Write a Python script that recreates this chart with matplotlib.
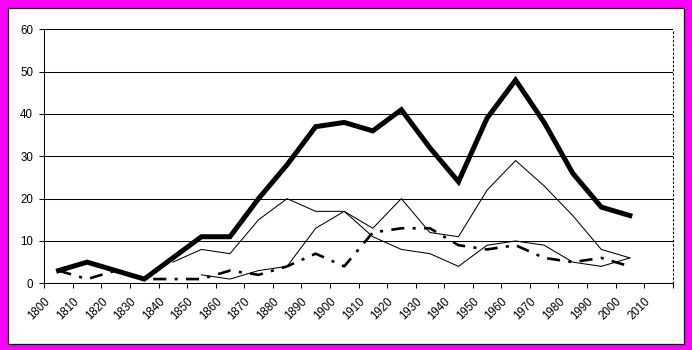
import matplotlib
matplotlib.use("Agg")
import matplotlib.pyplot as plt
from matplotlib.patches import Rectangle
import numpy as np

years = [str(y) for y in range(1800, 2011, 10)]
total = [3, 5, 3, 1, 6, 11, 11, 20, 28, 37, 38, 36, 41, 32, 24, 39, 48, 38, 26, 18, 16, None]
series_a = [None, None, None, None, 5, 8, 7, 15, 20, 17, 17, 13, 20, 12, 11, 22, 29, 23, 16, 8, 6, None]
series_b = [None, None, None, None, None, 2, 1, 3, 4, 13, 17, 11, 8, 7, 4, 9, 10, 9, 5, 4, 6, None]
series_c = [3, 1, 3, 1, 1, 1, 3, 2, 4, 7, 4, 12, 13, 13, 9, 8, 9, 6, 5, 6, 4, None]
y_ticks = [0, 10, 20, 30, 40, 50, 60]

def arr(v):
    return np.array([np.nan if x is None else x for x in v], dtype=float)

plt.rcParams['font.family'] = ['Liberation Sans', 'DejaVu Sans']
plt.rcParams['lines.scale_dashes'] = False

W, H = 692, 350
fig = plt.figure(figsize=(W / 100, H / 100), dpi=100, facecolor='#FF00FF')
bg = Rectangle((7.5 / W, (H - 343.5) / H), (684 - 7.5) / W, (343.5 - 7.5) / H,
               transform=fig.transFigure, facecolor='white', edgecolor='black',
               linewidth=0.9, zorder=-10)
fig.patches.append(bg)

left, right, top, bottom = 44.3, 672.7, 29.3, 283.3
ax = fig.add_axes([left / W, (H - bottom) / H, (right - left) / W, (bottom - top) / H])
ax.set_zorder(5)
ax.set_facecolor('none')

x = np.arange(len(years))
ax.plot(x, arr(series_b), color='black', lw=0.75, zorder=3)
ax.plot(x, arr(series_a), color='black', lw=0.75, zorder=3)
ax.plot(x, arr(series_c), color='black', lw=1.9, dashes=(9.4, 6.0, 2.2, 6.0),
        dash_capstyle='butt', zorder=4)
ax.plot(x, arr(total), color='black', lw=3.6, solid_joinstyle='miter', zorder=5)

ax.set_xlim(-0.5, len(years) - 0.5)
ax.set_ylim(0, 60)

# y axis
ax.set_yticks(y_ticks)
ax.set_yticklabels([str(v) for v in y_ticks])
ax.tick_params(axis='y', direction='out', length=3.6, width=0.75, pad=4.5,
               labelsize=8.3, colors='black')
ax.yaxis.grid(True, color='black', linewidth=0.75)
ax.set_axisbelow(True)

# x axis: ticks at category boundaries, labels via minor ticks
bounds = np.arange(len(years) + 1) - 0.5
ax.set_xticks(bounds)
ax.set_xticklabels([''] * len(bounds))
ax.tick_params(axis='x', which='major', direction='out', length=3.6, width=0.75)
ax.set_xticks(x - 0.5 + 0.15, minor=True)
ax.set_xticklabels(years, minor=True, rotation=45, ha='right', va='center',
                   rotation_mode='anchor', fontsize=8.3)
ax.tick_params(axis='x', which='minor', length=0, pad=12.0)

for s in ['left', 'bottom']:
    ax.spines[s].set_color('black')
    ax.spines[s].set_linewidth(0.75)
ax.spines['top'].set_visible(False)
ax.spines['right'].set_linestyle((0, (1, 2)))
ax.spines['right'].set_linewidth(0.75)

fig.savefig('out.png', dpi=100, facecolor=fig.get_facecolor())
